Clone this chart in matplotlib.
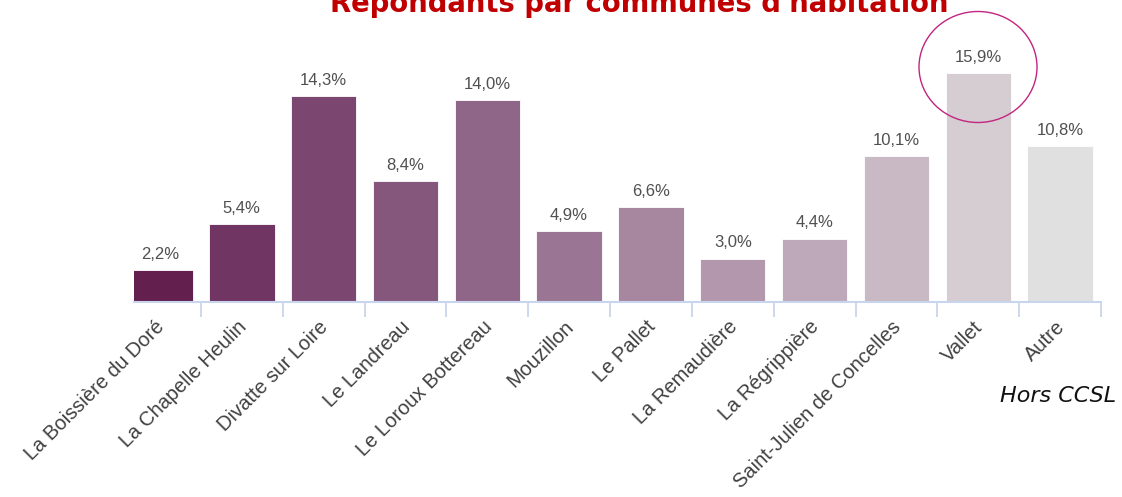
import numpy as np
import matplotlib.pyplot as plt
import matplotlib.transforms as mtransforms
from matplotlib.patches import Ellipse

# communes et pourcentages de répondants
communes = ['La Boissière du Doré', 'La Chapelle Heulin', 'Divatte sur Loire',
            'Le Landreau', 'Le Loroux Bottereau', 'Mouzillon', 'Le Pallet',
            'La Remaudière', 'La Régrippière', 'Saint-Julien de Concelles',
            'Vallet', 'Autre']
pourcent = [2.2, 5.4, 14.3, 8.4, 14.0, 4.9, 6.6, 3.0, 4.4, 10.1, 15.9, 10.8]
couleurs = ['#63204f', '#703562', '#7b4670', '#85577c', '#8f6687', '#9b7594',
            '#a7879f', '#b398ad', '#bea9ba', '#c8b9c4', '#d5cdd2', '#e0e0e0']

plt.rcParams['font.family'] = ['Liberation Sans', 'DejaVu Sans']

fig = plt.figure(figsize=(11.22, 4.97), dpi=100)
ax = fig.add_axes([134/1122, 1 - 302/497, (1101 - 134)/1122, (302 - 57)/497])

x = np.arange(len(communes))
barres = ax.bar(x, pourcent, width=0.8, color=couleurs, edgecolor='white', linewidth=0.6)

for xi, v in zip(x, pourcent):
    ax.annotate(f'{v:.1f}%'.replace('.', ','), (xi, v), xytext=(0, 6),
                textcoords='offset points', ha='center', va='bottom',
                fontsize=12, color='#505050')

ax.set_xlim(-0.317, 11.49)
ax.set_ylim(0, 17)
ax.set_yticks([])
for s in ['top', 'left', 'right']:
    ax.spines[s].set_visible(False)
ax.spines['bottom'].set_color('#c9d5ec')
ax.spines['bottom'].set_linewidth(1.5)

ax.set_xticks(x)
ax.set_xticklabels(communes, rotation=45, ha='right', rotation_mode='anchor',
                   fontsize=14.5, color='#404040')
ax.tick_params(axis='x', which='major', length=0, pad=11)
decal = mtransforms.ScaledTranslation(-5/100, 0, fig.dpi_scale_trans)
for lab in ax.get_xticklabels():
    lab.set_transform(lab.get_transform() + decal)
ax.set_xticks(x + 0.5, minor=True)
ax.tick_params(axis='x', which='minor', length=11, width=1.3, color='#c9d5ec')

fig.text(0.57, 1 - 12/497, "Répondants par communes d'habitation", ha='center',
         va='baseline', fontsize=19.8, fontweight='bold', color='#c00000',
         family=['DejaVu Sans'])
fig.text(1000/1122, 1 - 402/497, 'Hors CCSL', ha='left', va='baseline',
         fontsize=16, style='italic', color='#111111', family=['DejaVu Sans'])

fig.add_artist(Ellipse((978/1122, 1 - 67/497), 118/1122, 111/497,
                       transform=fig.transFigure, fill=False,
                       edgecolor='#c2247f', linewidth=1))

plt.savefig('out.png', dpi=100)
